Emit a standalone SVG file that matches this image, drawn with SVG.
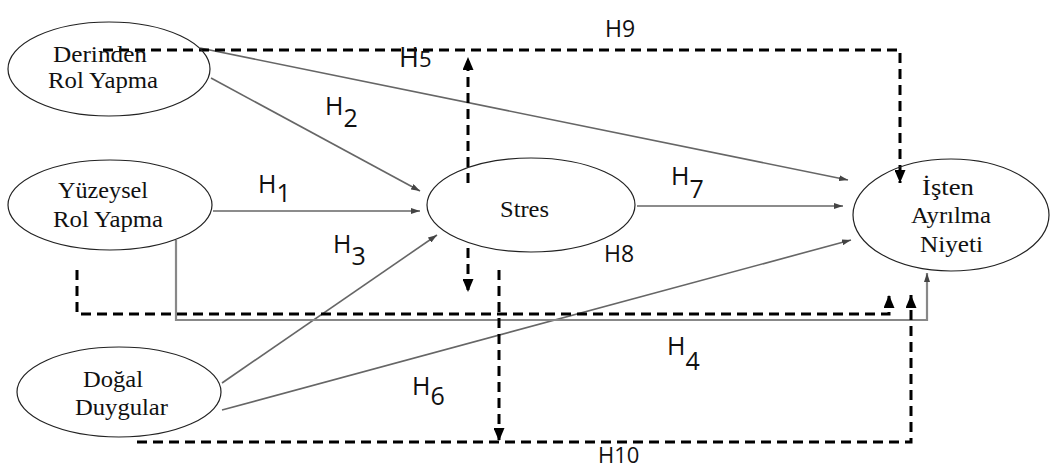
<svg xmlns="http://www.w3.org/2000/svg" width="1053" height="468" viewBox="0 0 1053 468">
<style>
.node{fill:none;stroke:#222;stroke-width:1.2}
.nt{font-family:"Liberation Serif",serif;font-size:24px;fill:#111}
.sol{fill:none;stroke:#666;stroke-width:1.6}
.sol4{fill:none;stroke:#888;stroke-width:2.2}
.dash{fill:none;stroke:#000;stroke-width:3;stroke-dasharray:10 6}
.lab{font-family:"Open Sans",sans-serif;font-size:25px;fill:#111}
.lab2{font-family:"Open Sans",sans-serif;font-size:23px;fill:#111}
</style>
<defs>
<marker id="ag" markerUnits="userSpaceOnUse" markerWidth="9" markerHeight="6" refX="9" refY="3" orient="auto"><path d="M0,0 L9,3 L0,6 z" fill="#444"/></marker>
<marker id="ab" markerUnits="userSpaceOnUse" markerWidth="13" markerHeight="11" refX="13" refY="5.5" orient="auto"><path d="M0,0 L13,5.5 L0,11 z" fill="#000"/></marker>
</defs>
<rect width="1053" height="468" fill="#fff"/>
<g id="connectors">
<path class="sol" d="M211,78 L420,191" marker-end="url(#ag)"/>
<path class="sol" d="M200,48 L848,180" marker-end="url(#ag)"/>
<path class="sol" d="M213,211 L420,211" marker-end="url(#ag)"/>
<path class="sol" d="M637,206 L843,206" marker-end="url(#ag)"/>
<path class="sol" d="M222,383 L437,235" marker-end="url(#ag)"/>
<path class="sol" d="M222,410 L851,240" marker-end="url(#ag)"/>
<path class="sol4" d="M176,240 V320 H927 V273" marker-end="url(#ag)"/>
<path class="dash" d="M103,50 H900 V183" marker-end="url(#ab)"/>
<path class="dash" d="M468,183 V57" marker-end="url(#ab)"/>
<path class="dash" d="M468,248 V292" marker-end="url(#ab)"/>
<path class="dash" d="M77,270 V314 H889 V295" marker-end="url(#ab)"/>
<path class="dash" d="M137,442 H911 V295" marker-end="url(#ab)"/>
<path class="dash" d="M499,270 V441" marker-end="url(#ab)"/>
</g>
<g id="n-derinden"><ellipse class="node" cx="109" cy="69" rx="101" ry="47"/><text class="nt" x="53" y="62" textLength="94" lengthAdjust="spacingAndGlyphs">Derinden</text><text class="nt" x="48" y="88" textLength="110" lengthAdjust="spacingAndGlyphs">Rol Yapma</text></g>
<g id="n-yuzeysel"><ellipse class="node" cx="110" cy="205" rx="102" ry="45"/><text class="nt" x="58" y="198" textLength="90" lengthAdjust="spacingAndGlyphs">Yüzeysel</text><text class="nt" x="53" y="227" textLength="110" lengthAdjust="spacingAndGlyphs">Rol Yapma</text></g>
<g id="n-stres"><ellipse class="node" cx="531" cy="205" rx="104" ry="47"/><text class="nt" x="500" y="217" textLength="49" lengthAdjust="spacingAndGlyphs">Stres</text></g>
<g id="n-isten"><ellipse class="node" cx="951" cy="215" rx="98" ry="56"/><text class="nt" x="922" y="195" textLength="52" lengthAdjust="spacingAndGlyphs">İşten</text><text class="nt" x="911" y="223" textLength="80" lengthAdjust="spacingAndGlyphs">Ayrılma</text><text class="nt" x="920" y="252" textLength="63" lengthAdjust="spacingAndGlyphs">Niyeti</text></g>
<g id="n-dogal"><ellipse class="node" cx="119" cy="392" rx="102" ry="45"/><text class="nt" x="83" y="387" textLength="60" lengthAdjust="spacingAndGlyphs">Doğal</text><text class="nt" x="75" y="415" textLength="93" lengthAdjust="spacingAndGlyphs">Duygular</text></g>
<g id="labels">
<text class="lab2" x="605" y="37">H9</text>
<text class="lab" x="399" y="67" style="font-size:27px">H<tspan style="font-size:22px">5</tspan></text>
<text class="lab" x="325" y="115">H<tspan dy="12">2</tspan></text>
<text class="lab" x="258" y="193">H<tspan dy="9">1</tspan></text>
<text class="lab" x="333" y="253">H<tspan dy="12">3</tspan></text>
<text class="lab" x="671" y="185">H<tspan dy="13">7</tspan></text>
<text class="lab2" x="604" y="262">H8</text>
<text class="lab" x="667" y="355">H<tspan dy="15">4</tspan></text>
<text class="lab" x="412" y="395">H<tspan dy="10">6</tspan></text>
<text class="lab2" x="598" y="463" style="font-size:22px">H10</text>
</g>
</svg>
